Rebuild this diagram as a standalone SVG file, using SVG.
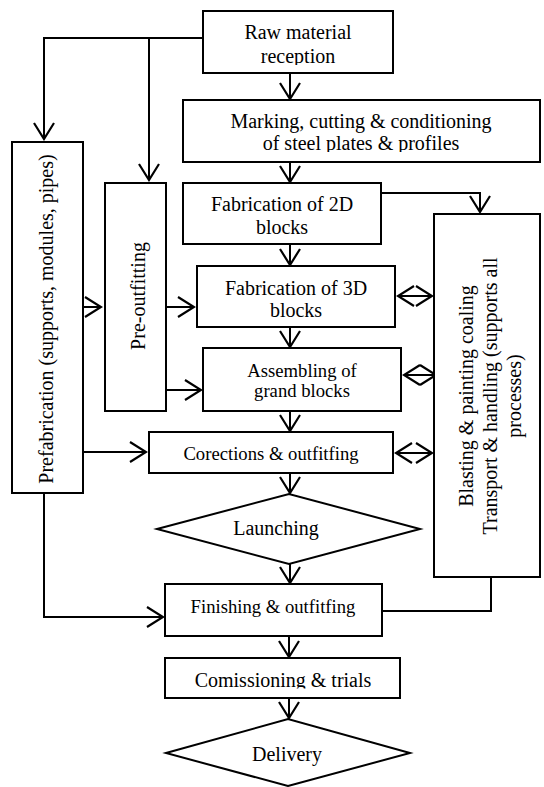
<svg xmlns="http://www.w3.org/2000/svg" width="544" height="787" viewBox="0 0 544 787">
<style>
.box{fill:#fff;stroke:#000;stroke-width:2}
.t{font-family:"Liberation Serif","Times New Roman",serif;font-size:20px;fill:#000;text-anchor:middle}
.s{font-size:18.67px}
.c{fill:none;stroke:#000;stroke-width:2}
.a{marker-end:url(#arr)}
.d{marker-start:url(#arr);marker-end:url(#arr)}
</style>
<defs>
<marker id="arr" markerUnits="userSpaceOnUse" viewBox="-18 -12 20 24" markerWidth="20" markerHeight="24" refX="0" refY="0" orient="auto-start-reverse">
<path d="M-16,-10 L0,0 L-16,10" fill="none" stroke="#000" stroke-width="2.2"/>
</marker>
<clipPath id="clipRaw"><rect x="203" y="11" width="190" height="54"/></clipPath>
<clipPath id="clipMark"><rect x="183" y="100" width="357" height="52"/></clipPath>
<clipPath id="clipComm"><rect x="165" y="658" width="235" height="30.5"/></clipPath>
</defs>
<rect width="544" height="787" fill="#fff"/>

<g id="connectors">
<path class="c a" d="M290,73 V99"/>
<path class="c a" d="M290,162 V182"/>
<path class="c a" d="M290,244 V265"/>
<path class="c a" d="M290,327 V347"/>
<path class="c a" d="M290,411 V431"/>
<path class="c a" d="M290,473 V493"/>
<path class="c a" d="M290,563 V583"/>
<path class="c a" d="M289,636 V657"/>
<path class="c a" d="M289,698 V718"/>
<path class="c a" d="M203,38 H44 V139"/>
<path class="c a" d="M149,38 V180"/>
<path class="c a" d="M381,193 H480 V212"/>
<path class="c a" d="M83,307 H101"/>
<path class="c a" d="M166,307 H194"/>
<path class="c a" d="M166,390 H201"/>
<path class="c a" d="M83,452 H146"/>
<path class="c a" d="M44,493 V617 H163"/>
<path class="c" d="M491,577 V611 H382"/>
<path class="c d" d="M398,296 H432"/>
<path class="c d" d="M404,375 H436"/>
<path class="c d" d="M396,453 H432"/>
</g>

<g id="raw">
<rect class="box" x="203" y="11" width="190" height="62"/>
<g clip-path="url(#clipRaw)">
<text class="t" x="298" y="39">Raw material</text>
<text class="t" x="298" y="63">reception</text>
</g>
</g>

<g id="marking">
<rect class="box" x="183" y="100" width="357" height="62"/>
<g clip-path="url(#clipMark)">
<text class="t" x="361" y="128">Marking, cutting &amp; conditioning</text>
<text class="t" x="361" y="150">of steel plates &amp; profiles</text>
</g>
</g>

<g id="prefab">
<rect class="box" x="12" y="142" width="71" height="351"/>
<text class="t" transform="translate(53,319) rotate(-90)">Prefabrication (supports, modules, pipes)</text>
</g>

<g id="preoutfitting">
<rect class="box" x="105" y="183" width="61" height="228"/>
<text class="t" transform="translate(145,296) rotate(-90)">Pre-outfitting</text>
</g>

<g id="fab2d">
<rect class="box" x="183" y="183" width="198" height="61"/>
<text class="t" x="282" y="211">Fabrication of 2D</text>
<text class="t" x="282" y="234">blocks</text>
</g>

<g id="fab3d">
<rect class="box" x="197" y="266" width="198" height="61"/>
<text class="t" x="296" y="295">Fabrication of 3D</text>
<text class="t" x="296" y="317">blocks</text>
</g>

<g id="assembling">
<rect class="box" x="203" y="348" width="198" height="63"/>
<text class="t s" x="302" y="377">Assembling of</text>
<text class="t s" x="302" y="397">grand blocks</text>
</g>

<g id="corrections">
<rect class="box" x="149" y="432" width="244" height="41"/>
<text class="t s" x="271" y="460">Corections &amp; outfitfing</text>
</g>

<g id="blasting">
<rect class="box" x="434" y="214" width="106" height="363"/>
<text class="t" transform="translate(473,396) rotate(-90)">Blasting &amp; painting coaling</text>
<text class="t" transform="translate(497,396) rotate(-90)">Transport &amp; handling (supports all</text>
<text class="t" transform="translate(521,396) rotate(-90)">processes)</text>
</g>

<g id="launching">
<polygon class="box" points="157,529 289,494 420,529 289,564"/>
<text class="t" x="276" y="535">Launching</text>
</g>

<g id="finishing">
<rect class="box" x="165" y="584" width="217" height="52"/>
<text class="t s" x="273" y="613">Finishing &amp; outfitfing</text>
</g>

<g id="commissioning">
<rect class="box" x="165" y="658" width="235" height="40"/>
<g clip-path="url(#clipComm)">
<text class="t" x="283" y="687">Comissioning &amp; trials</text>
</g>
</g>

<g id="delivery">
<polygon class="box" points="166,753 288,719 410,753 288,786"/>
<text class="t" x="287" y="761">Delivery</text>
</g>
</svg>
